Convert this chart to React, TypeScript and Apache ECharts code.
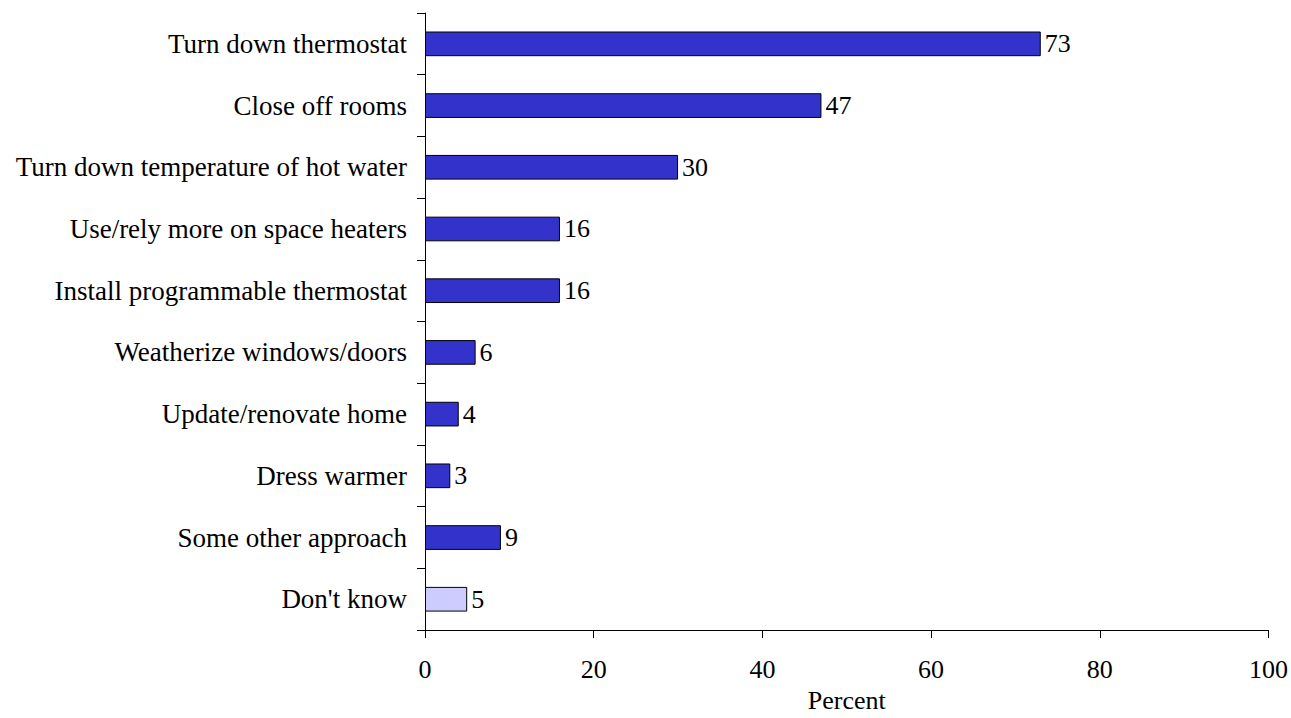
import React, { useEffect, useRef } from "react";
import * as echarts from "echarts";

const categories = [
  "Turn down thermostat",
  "Close off rooms",
  "Turn down temperature of hot water",
  "Use/rely more on space heaters",
  "Install programmable thermostat",
  "Weatherize windows/doors",
  "Update/renovate home",
  "Dress warmer",
  "Some other approach",
  "Don't know",
];
const values = [73, 47, 30, 16, 16, 6, 4, 3, 9, 5];
const barColors = ["#3333cc", "#3333cc", "#3333cc", "#3333cc", "#3333cc", "#3333cc", "#3333cc", "#3333cc", "#3333cc", "#ccccff"];
const xTicks = [0, 20, 40, 60, 80, 100];

export default function App() {
  const ref = useRef<HTMLDivElement>(null);
  useEffect(() => {
    document.body.style.margin = "0";
    const chart = echarts.init(ref.current!, null, { renderer: "svg" });
    const font = "'Liberation Serif', 'Times New Roman', serif";
    chart.setOption({
      animation: false,
      textStyle: { fontFamily: font },
      grid: { left: 425, right: 22, top: 13, bottom: 81, containLabel: false },
      xAxis: {
        type: "value",
        min: xTicks[0],
        max: xTicks[xTicks.length - 1],
        interval: 20,
        name: "Percent",
        nameLocation: "middle",
        nameGap: 55,
        nameTextStyle: { fontFamily: font, fontSize: 26, color: "#000" },
        axisLine: { show: true, lineStyle: { color: "#000", width: 1 } },
        axisTick: { show: true, length: 8, lineStyle: { color: "#000" } },
        axisLabel: { fontFamily: font, fontSize: 26, color: "#000", margin: 26 },
        splitLine: { show: false },
      },
      yAxis: {
        type: "category",
        data: categories,
        inverse: true,
        axisLine: { show: true, lineStyle: { color: "#000", width: 1 } },
        axisTick: { show: true, length: 8, alignWithLabel: false, lineStyle: { color: "#000" } },
        axisLabel: { fontFamily: font, fontSize: 27, color: "#000", margin: 18 },
      },
      series: [
        {
          type: "bar",
          data: values.map((v, i) => ({
            value: v,
            itemStyle: { color: barColors[i], borderColor: "#000", borderWidth: 1 },
          })),
          barCategoryGap: "60%",
          label: {
            show: true,
            position: "right",
            distance: 4,
            fontFamily: font,
            fontSize: 26,
            color: "#000",
          },
        },
      ],
    });
    return () => chart.dispose();
  }, []);
  return (
    <div
      ref={ref}
      style={{ position: "absolute", left: 0, top: 0, width: 1291, height: 718 }}
    />
  );
}
